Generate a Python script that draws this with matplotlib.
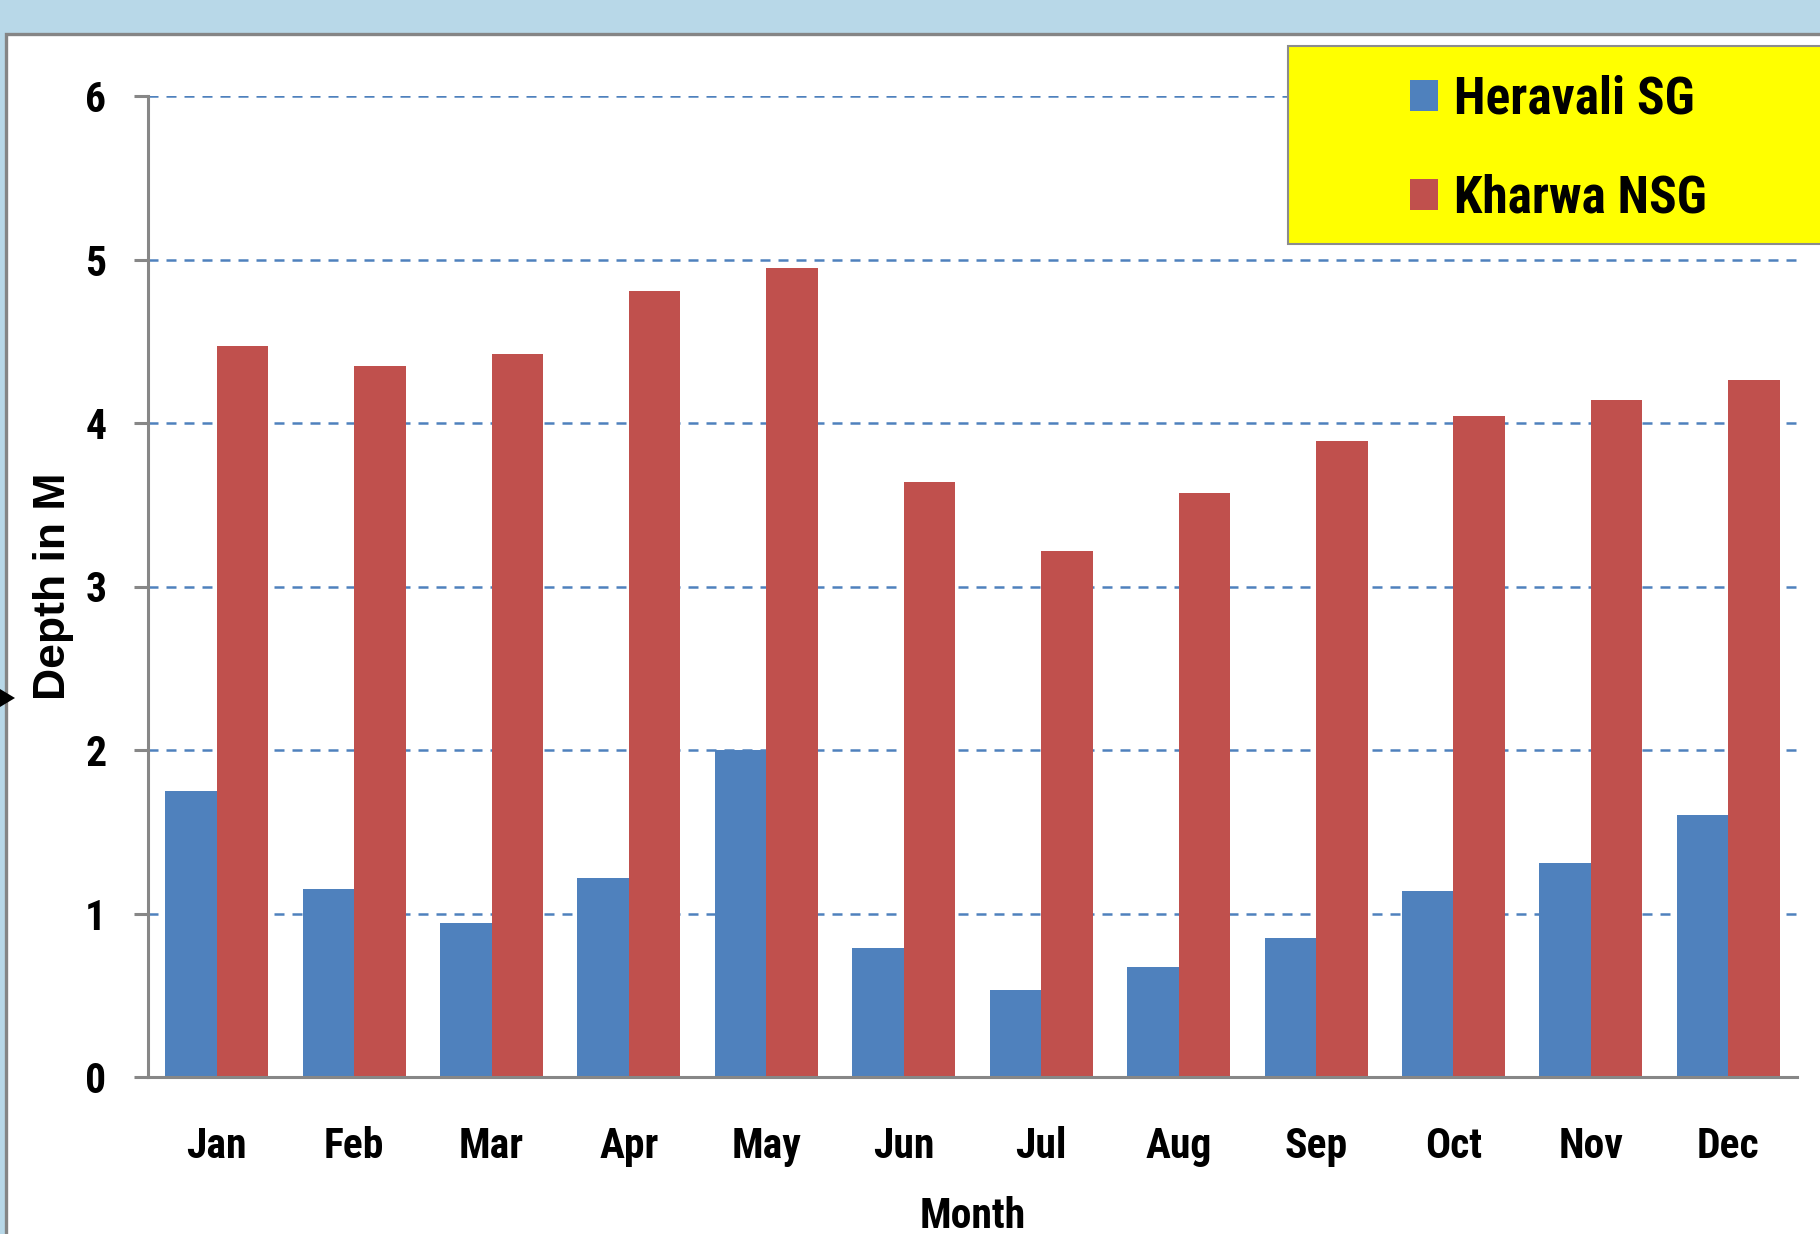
import numpy as np
import matplotlib
matplotlib.use('Agg')
import matplotlib.pyplot as plt
from matplotlib.patches import Rectangle, Polygon

# Monthly depth readings (m)
months = ['Jan', 'Feb', 'Mar', 'Apr', 'May', 'Jun', 'Jul', 'Aug', 'Sep', 'Oct', 'Nov', 'Dec']
heravali_sg = [1.75, 1.15, 0.94, 1.22, 2.00, 0.79, 0.53, 0.67, 0.85, 1.14, 1.31, 1.60]
kharwa_nsg = [4.47, 4.35, 4.42, 4.81, 4.95, 3.64, 3.22, 3.57, 3.89, 4.04, 4.14, 4.26]
series_names = ['Heravali SG', 'Kharwa NSG']
yticks = [0, 1, 2, 3, 4, 5, 6]

narrow = ['Roboto Condensed', 'Lato', 'DejaVu Sans']
plt.rcParams['font.family'] = narrow
plt.rcParams['font.weight'] = 'bold'

W, H = 1820, 1234
fig = plt.figure(figsize=(W / 100, H / 100), dpi=100, facecolor='#B8D8E8')

# white panel with grey frame (top and left edges visible)
fig.add_artist(Rectangle((6 / W, -0.05), 1.1, 1 - 34 / H + 0.05, transform=fig.transFigure,
                         facecolor='white', edgecolor='#858585', linewidth=2.4, zorder=0))
# small black arrow on left edge
fig.add_artist(Polygon([(0, 1 - 689 / H), (0, 1 - 707 / H), (15 / W, 1 - 698 / H)],
                       closed=True, transform=fig.transFigure, facecolor='black',
                       edgecolor='none', zorder=1))

ax = fig.add_axes([148 / W, 1 - 1077 / H, (1797 - 148) / W, (1077 - 96) / H])
ax.set_facecolor('none')

x = np.arange(len(months))
w = 0.375
ax.bar(x - w / 2, heravali_sg, w, color='#4F81BD', label=series_names[0], zorder=2)
ax.bar(x + w / 2, kharwa_nsg, w, color='#C0504D', label=series_names[1], zorder=2)

ax.set_xlim(-0.5, len(months) - 0.5)
ax.set_ylim(0, 6)
ax.set_yticks(yticks)
ax.set_xticks(x)
ax.set_xticklabels(months)

ax.set_axisbelow(True)
ax.yaxis.grid(True, color='#4F81BD', linewidth=1.8, linestyle=(0, (4, 3.2)))
ax.xaxis.grid(False)

for side in ['top', 'right']:
    ax.spines[side].set_visible(False)
for side in ['left', 'bottom']:
    ax.spines[side].set_color('#878787')
    ax.spines[side].set_linewidth(2.2)

ax.tick_params(axis='y', length=10, width=2.2, color='#878787', pad=20,
               labelsize=30)
ax.tick_params(axis='x', length=0, pad=35, labelsize=30)

ax.set_xlabel('Month', fontsize=30, fontweight='bold', labelpad=21)
ax.set_ylabel('Depth in M', fontsize=32, fontweight='bold', labelpad=8,
              family=['Liberation Sans', 'DejaVu Sans'])

# legend box (yellow, runs off the right edge)
fig.add_artist(Rectangle((1288 / W, 1 - 244 / H), 0.4, (244 - 46) / H,
                         transform=fig.transFigure, facecolor='#FFFF00',
                         edgecolor='#8C8C8C', linewidth=1.5, zorder=3))
leg = fig.legend(loc='center left', bbox_to_anchor=(1410 / W, 1 - 149 / H),
                 frameon=False, fontsize=37, handlelength=0.55, handleheight=0.55,
                 handletextpad=0.3, labelspacing=0.95, borderpad=0, borderaxespad=0)
leg.set_zorder(4)

fig.savefig('out.png', dpi=100, facecolor=fig.get_facecolor())
